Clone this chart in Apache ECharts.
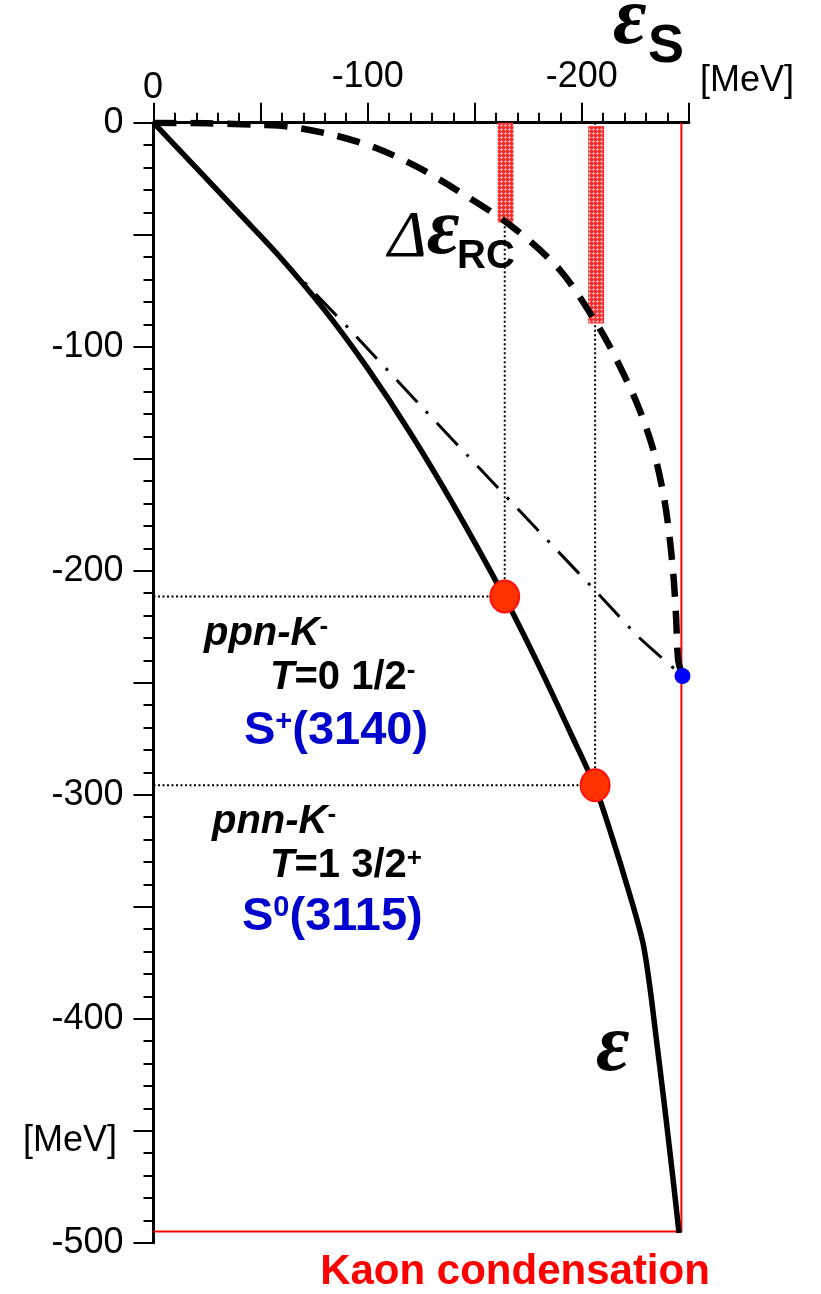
<!DOCTYPE html>
<html>
<head>
<meta charset="utf-8">
<script src="https://cdn.jsdelivr.net/npm/echarts@6/dist/echarts.min.js"></script>
<style>
  html, body { margin: 0; padding: 0; background: #fff; }
  #chart { width: 821px; height: 1294px; }
</style>
</head>
<body>
<div id="chart"></div>
<script>
// epsilon_S (x, MeV) vs epsilon (y, MeV)
const epsX = [0, -20, -40, -57.5, -80, -100, -120, -140, -164, -180, -195, -206, -213, -222.5, -228.5, -231.8, -234.4, -238.5, -242.4, -245.4];
const epsY = [0, -20.2, -40.5, -58.3, -83.8, -109.7, -138.6, -170.5, -212, -242.5, -273, -296, -315.5, -345, -366, -386, -406, -438, -470, -495.7];

// delta epsilon_RC (dashed)
const rcX = [0, -25, -50, -63.7, -84, -104.2, -122.9, -138.4, -166.5, -189.8, -206.9, -216.3, -226.4, -233.4, -238, -240.4, -242.7, -244, -245, -247];
const rcY = [0, -0.3, -1, -1.8, -5.5, -11.4, -19.6, -28.2, -45.7, -65.8, -89.6, -105.9, -126.8, -146.1, -165.4, -180.4, -201.2, -220.5, -239.9, -247];

// dash-dot line
const ddX = [0, -57.5, -91.8, -125.2, -149.3, -168.8, -188.3, -207.2, -226.4, -247];
const ddY = [0, -58.3, -92.5, -126.8, -151.3, -171.1, -190.8, -209.8, -229.5, -247];

// the two K- states (red dots)
const stateX = [-164, -206.2];
const stateY = [-211.5, -295.8];

// hatched bars near the top
const hatchX = [-164.4, -206.7];
const hatchTop = [0, -1.5];
const hatchBottom = [-44.5, -89.6];

// kaon condensation limits
const kaonX = -246.5;
const kaonY = -495;
const kaonPoint = [-247, -247];

// tick labels
const xLabelValues = [-100, -200];
const yLabelValues = [0, -100, -200, -300, -400, -500];

const zip = (xs, ys) => xs.map((x, i) => [x, ys[i]]);

// red cross-hatch fill
const pat = document.createElement('canvas');
pat.width = 4; pat.height = 4;
const pc = pat.getContext('2d');
pc.fillStyle = '#ff2e2e';
pc.fillRect(0, 0, 4, 4);
pc.fillStyle = '#ffa8a8';
pc.fillRect(1, 0, 1, 1);
pc.fillRect(0, 1, 3, 1);
pc.fillRect(1, 2, 1, 1);
const hatchFill = { image: pat, repeat: 'repeat' };

const font = '"Liberation Sans", Arial, sans-serif';
const serif = '"Liberation Serif", "Times New Roman", serif';

let myChart = echarts.init(document.getElementById('chart'));

let guideV = [];
let guideH = [];
for (let i = 0; i < stateX.length; i++) {
  guideV.push([[stateX[i], 0], [stateX[i], stateY[i]]]);
  guideH.push([[0, stateY[i]], [stateX[i], stateY[i]]]);
}

function dotted(data) {
  return {
    type: 'line', data: data, showSymbol: false, silent: true, z: 1,
    lineStyle: { color: '#000', width: 2, type: [2, 2.5] }
  };
}

function txt(x, y, text, fontStr, fill, align) {
  return {
    type: 'text', x: x, y: y,
    style: { text: text, font: fontStr, fill: fill, align: align, verticalAlign: 'middle', textAlign: align, textVerticalAlign: 'middle' }
  };
}

function richTxt(x, y, text, rich) {
  return {
    type: 'text', x: x, y: y,
    style: { text: text, verticalAlign: 'middle', textVerticalAlign: 'middle', rich: rich }
  };
}

const blackLine = {
  t: { font: 'italic bold 40px ' + font, fill: '#000', verticalAlign: 'bottom' },
  a: { font: 'bold 40px ' + font, fill: '#000', verticalAlign: 'bottom' },
  i: { font: 'italic bold 40px ' + font, fill: '#000', verticalAlign: 'bottom' },
  s: { font: 'bold 26px ' + font, fill: '#000', verticalAlign: 'top' }
};
const blueLine = {
  a: { font: 'bold 47px ' + font, fill: '#0000cc', verticalAlign: 'bottom' },
  s: { font: 'bold 29px ' + font, fill: '#0000cc', verticalAlign: 'top' }
};

let option = {
  animation: false,
  backgroundColor: '#fff',
  grid: { left: 153.5, top: 122.7, width: 535.4, height: 1120 },
  xAxis: {
    type: 'value', position: 'top', min: -250, max: 0, interval: 50, inverse: true,
    axisLine: { onZero: false, lineStyle: { color: '#000', width: 3 } },
    axisTick: { length: 20, lineStyle: { color: '#000', width: 2 } },
    minorTick: { show: true, splitNumber: 5, length: 10, lineStyle: { color: '#000', width: 2 } },
    splitLine: { show: false },
    axisLabel: {
      margin: 28, fontSize: 36, color: '#000', fontFamily: font,
      formatter: v => xLabelValues.includes(v) ? String(v) : ''
    }
  },
  yAxis: {
    type: 'value', min: -500, max: 0, interval: 50,
    axisLine: { onZero: false, lineStyle: { color: '#000', width: 3 } },
    axisTick: { length: 20, lineStyle: { color: '#000', width: 2 } },
    minorTick: { show: true, splitNumber: 5, length: 10, lineStyle: { color: '#000', width: 2 } },
    splitLine: { show: false },
    axisLabel: {
      margin: 30, fontSize: 36, color: '#000', fontFamily: font,
      formatter: v => yLabelValues.includes(v) ? String(v) : ''
    }
  },
  series: [
    dotted(guideV[0]), dotted(guideV[1]), dotted(guideH[0]), dotted(guideH[1]),
    {
      type: 'custom', z: 2,
      data: hatchX.map((x, i) => [x, hatchTop[i], hatchBottom[i]]),
      encode: { x: 0, y: [1, 2] },
      renderItem: function (params, api) {
        const p0 = api.coord([api.value(0), api.value(1)]);
        const p1 = api.coord([api.value(0), api.value(2)]);
        return {
          type: 'rect',
          shape: { x: p0[0] - 8, y: p0[1], width: 16, height: p1[1] - p0[1] },
          style: { fill: hatchFill }
        };
      }
    },
    {
      type: 'line', z: 3, showSymbol: false,
      data: [[kaonX, 0], [kaonX, kaonY], [0, kaonY]],
      lineStyle: { color: '#ff0000', width: 2 }
    },
    {
      type: 'line', z: 4, showSymbol: false, smooth: 0.2,
      data: zip(ddX, ddY),
      lineStyle: { color: '#000', width: 3, type: [30, 13, 3, 13] }
    },
    {
      type: 'line', z: 5, showSymbol: false, smooth: 0.3,
      data: zip(rcX, rcY),
      lineStyle: { color: '#000', width: 6.5, type: [23, 14] }
    },
    {
      type: 'line', z: 6, showSymbol: false, smooth: 0.3,
      data: zip(epsX, epsY),
      lineStyle: { color: '#000', width: 5.5 }
    },
    {
      type: 'scatter', z: 7, symbolSize: [29, 32],
      data: zip(stateX, stateY),
      itemStyle: { color: '#ff3300', borderColor: '#ff1010', borderWidth: 2, opacity: 1 }
    },
    {
      type: 'scatter', z: 7, symbolSize: 16,
      data: [kaonPoint],
      itemStyle: { color: '#0000ff', opacity: 1 }
    }
  ],
  graphic: [
    txt(153, 88, '0', '36px ' + font, '#000', 'center'),
    txt(700, 81, '[MeV]', '36px ' + font, '#000', 'left'),
    txt(613, 22, 'ε', 'italic bold 82px ' + serif, '#000', 'left'),
    txt(648, 47, 'S', 'bold 54px ' + font, '#000', 'left'),
    richTxt(388, 232, '{d|Δ}{e|ε}', {
      d: { font: 'italic 66px ' + serif, fill: '#000', verticalAlign: 'bottom' },
      e: { font: 'italic bold 80px ' + serif, fill: '#000', verticalAlign: 'bottom' }
    }),
    txt(457, 257, 'RC', 'bold 40px ' + font, '#000', 'left'),
    txt(596, 1049, 'ε', 'italic bold 82px ' + serif, '#000', 'left'),
    txt(70, 1141, '[MeV]', '36px ' + font, '#000', 'center'),
    txt(515, 1272, 'Kaon condensation', 'bold 42px ' + font, '#ff0000', 'center'),
    richTxt(204, 634, '{i|ppn-K}{s|-}', blackLine),
    richTxt(270, 678, '{t|T}{a|=0 1/2}{s|-}', blackLine),
    richTxt(244, 731, '{a|S}{s|+}{a|(3140)}', blueLine),
    richTxt(212, 822, '{i|pnn-K}{s|-}', blackLine),
    richTxt(270, 866, '{t|T}{a|=1 3/2}{s|+}', blackLine),
    richTxt(242, 917, '{a|S}{s|0}{a|(3115)}', blueLine)
  ]
};

myChart.setOption(option);
</script>
</body>
</html>
